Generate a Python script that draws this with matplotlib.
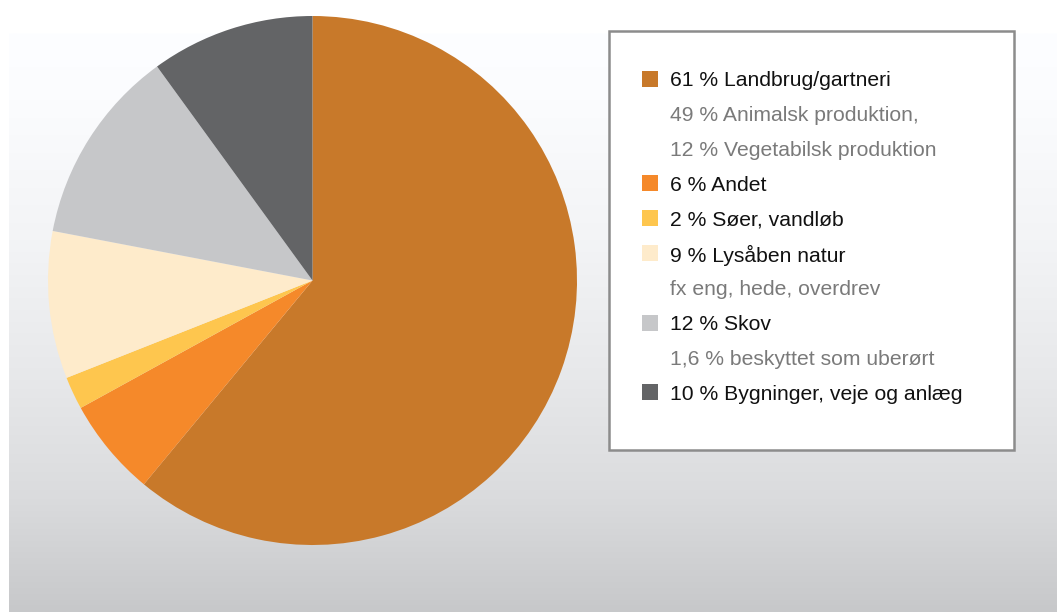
import matplotlib
matplotlib.use("Agg")
import matplotlib.pyplot as plt
import numpy as np
from matplotlib.patches import Rectangle

# ---- data ----
categories = ["Landbrug/gartneri", "Andet", "Søer, vandløb", "Lysåben natur", "Skov",
              "Bygninger, veje og anlæg"]
values = [61, 6, 2, 9, 12, 10]
colors = ["#C8792A", "#F5892A", "#FEC64E", "#FEEBCB", "#C6C7C9", "#636466"]
legend_main = ["61 % Landbrug/gartneri", "6 % Andet", "2 % Søer, vandløb",
               "9 % Lysåben natur", "12 % Skov", "10 % Bygninger, veje og anlæg"]
legend_sub = {0: ["49 % Animalsk produktion,", "12 % Vegetabilsk produktion"],
              3: ["fx eng, hede, overdrev"],
              4: ["1,6 % beskyttet som uberørt"]}

W, H = 1057, 612
fig = plt.figure(figsize=(W / 100, H / 100), dpi=100)
fig.patch.set_facecolor("white")

def fr(x, y, w, h):
    """pixel box (top-left origin) -> figure fraction rect"""
    return [x / W, (H - y - h) / H, w / W, h / H]

# gradient background
bg = fig.add_axes(fr(9, 33, W - 9, H - 33))
ys = np.linspace(33, 612, 400)
stops_y = [33, 100, 240, 380, 500, 612]
stops_v = [253, 251, 243, 231, 218, 199]
v = np.interp(ys, stops_y, stops_v) / 255.0
img = np.stack([v, v + 1 / 255, v + 3 / 255], axis=-1)[:, None, :]
img = np.clip(img, 0, 1)
bg.imshow(img, aspect="auto", extent=[0, 1, 0, 1], interpolation="bilinear")
bg.set_axis_off()

# pie
cx, cy, r = 312.5, 280.5, 264.5
ax = fig.add_axes(fr(cx - r, cy - r, 2 * r, 2 * r))
ax.pie(values, colors=colors, startangle=90, counterclock=False, radius=1,
       wedgeprops=dict(linewidth=0, antialiased=True))
ax.set_xlim(-1, 1)
ax.set_ylim(-1, 1)
ax.set_aspect("equal")
ax.set_axis_off()

# legend box
lx, ly, lw, lh = 609, 31, 405, 419
lax = fig.add_axes([0, 0, 1, 1])
lax.set_xlim(0, W)
lax.set_ylim(H, 0)
lax.set_axis_off()
lax.add_patch(Rectangle((lx, ly), lw, lh, facecolor="white", edgecolor="#8C8C8C", lw=1.8))

row_y = 79
step = 34.8
for i, label in enumerate(legend_main):
    lax.add_patch(Rectangle((642, row_y - 8), 16, 16, facecolor=colors[i], edgecolor="none"))
    lax.text(670, row_y, label, fontsize=15.2, family="Liberation Sans", color="#111111",
             va="center_baseline", ha="left")
    row_y += step
    for sub in legend_sub.get(i, []):
        lax.text(670, row_y, sub, fontsize=15.2, family="Liberation Sans", color="#7A7A7A",
                 va="center_baseline", ha="left")
        row_y += step

fig.savefig("out.png", dpi=100)
